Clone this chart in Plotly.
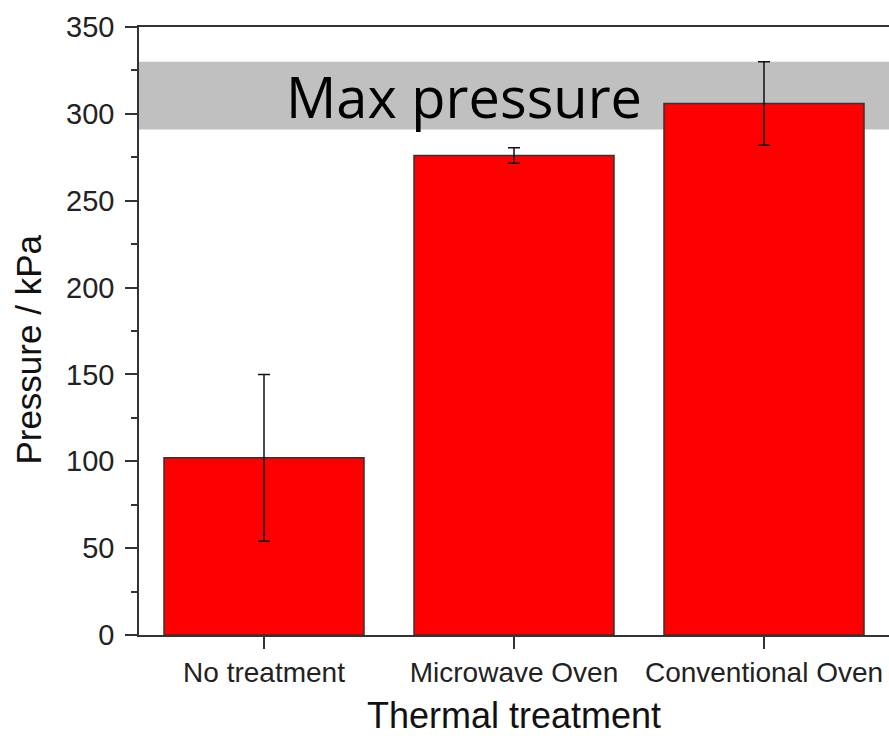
import plotly.graph_objects as go

categories = ["No treatment", "Microwave Oven", "Conventional Oven"]
pressure = [102, 276, 306]
pressure_err = [48, 4.5, 24]
max_band_low = 291
max_band_high = 330
y_ticks = [0, 50, 100, 150, 200, 250, 300, 350]

fig = go.Figure()
fig.add_trace(go.Bar(
    x=categories, y=pressure,
    marker=dict(color="#ff0000", line=dict(color="#333333", width=1.5)),
    error_y=dict(type="data", array=pressure_err, visible=True,
                 color="#111111", thickness=1.5, width=6),
    width=0.8,
))

fig.add_shape(type="rect", xref="paper", yref="y", x0=0, x1=1,
              y0=max_band_low, y1=max_band_high,
              fillcolor="#c0c0c0", line=dict(width=0), layer="below")

fig.add_annotation(text="Max pressure", xref="x", yref="y",
                   x=0.80, y=(max_band_low + max_band_high) / 2,
                   showarrow=False, xanchor="center", yanchor="middle",
                   font=dict(family="Open Sans", size=56, color="#000000"))

# y-axis title (placed slightly below plot centre as in the reference)
fig.add_annotation(text="Pressure / kPa", xref="paper", yref="paper",
                   x=-0.147, y=0.469, textangle=-90,
                   showarrow=False, xanchor="center", yanchor="middle",
                   font=dict(family="Liberation Sans, Arial", size=35, color="#111111"))

fig.update_layout(
    width=889, height=736,
    margin=dict(l=139, r=0, t=27, b=101),
    plot_bgcolor="white", paper_bgcolor="white",
    showlegend=False,
    font=dict(family="Liberation Sans, Arial", color="#222222"),
    xaxis=dict(
        range=[-0.5, 2.5],
        showline=True, linecolor="#333333", linewidth=1.5, mirror=True,
        ticks="outside", ticklen=12, tickwidth=1.5, tickcolor="#333333",
        tickfont=dict(size=28, color="#222222"),
        title=dict(text="Thermal treatment", font=dict(size=36, color="#111111"), standoff=22),
        showgrid=False,
    ),
    yaxis=dict(
        range=[0, 350], tickvals=y_ticks,
        showline=True, linecolor="#333333", linewidth=1.5,
        ticks="outside", ticklen=12, tickwidth=1.5, tickcolor="#333333",
        ticklabelstandoff=5,
        minor=dict(dtick=25, ticks="outside", ticklen=6, tickwidth=1.5, tickcolor="#333333", showgrid=False),
        tickfont=dict(size=29, color="#222222"),
        showgrid=False, zeroline=False,
    ),
)

fig.write_html("out.html")
